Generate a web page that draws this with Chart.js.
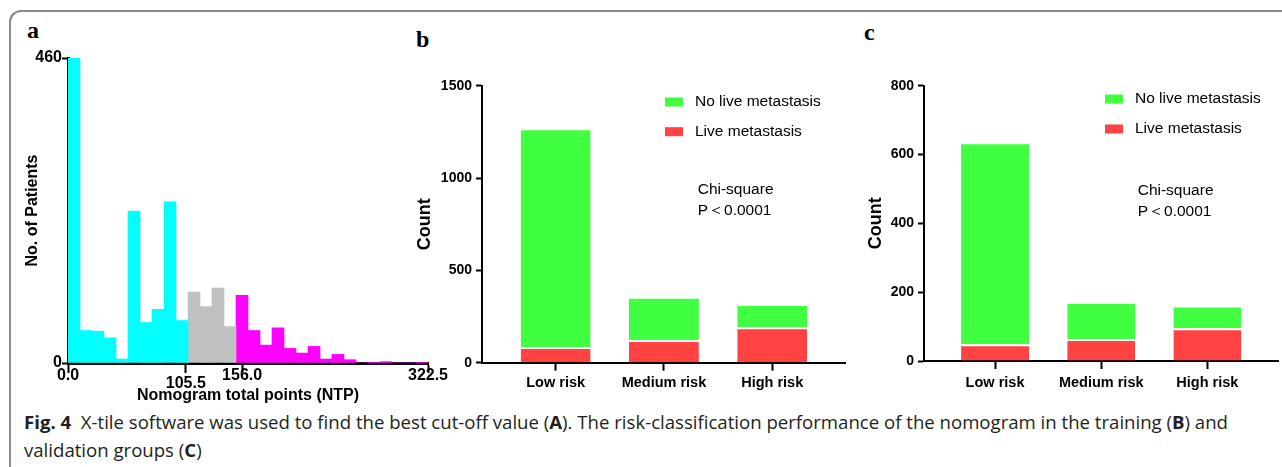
<!DOCTYPE html>
<html>
<head>
<meta charset="utf-8">
<script src="https://cdn.jsdelivr.net/npm/chart.js@4.4.1/dist/chart.umd.min.js"></script>
<style>
  body { margin: 0; background: #fff; width: 1282px; height: 467px; overflow: hidden; position: relative; }
  #frame { position: absolute; left: 9px; top: 10px; width: 1300px; height: 500px;
    border-left: 2px solid #8a8a8a; border-top: 2px solid #8a8a8a; border-top-left-radius: 12px; }
  canvas { position: absolute; }
  .tag { position: absolute; font: bold 24px 'Liberation Serif', 'Times New Roman', serif; line-height: 24px; color: #000; }
  #caption { position: absolute; left: 24px; top: 408px; font-size: 18.6px; line-height: 28px; color: #231f20;
    font-family: 'Open Sans', 'Noto Sans', sans-serif; white-space: nowrap; }
</style>
</head>
<body>
<div id="frame"></div>
<div class="tag" style="left:27px;top:18px">a</div>
<div class="tag" style="left:416px;top:27px">b</div>
<div class="tag" style="left:864px;top:20px">c</div>
<canvas id="histA" width="452" height="365" style="left:0;top:40px"></canvas>
<canvas id="trainB" width="445" height="330" style="left:405px;top:70px"></canvas>
<canvas id="validC" width="432" height="330" style="left:850px;top:70px"></canvas>
<div id="caption"><b>Fig. 4</b>&nbsp; X-tile software was used to find the best cut-off value (<b>A</b>). The risk-classification performance of the nomogram in the training (<b>B</b>) and<br>validation groups (<b>C</b>)</div>
<script>
'use strict';

// panel a: X-tile histogram of nomogram total points
const ntpBinWidth = 10.75;
const lowNtpCounts = [460, 49, 48, 38, 6, 229, 61, 81, 243, 64];
const midNtpCounts = [107, 85, 113, 55];
const highNtpCounts = [102, 49, 27, 53, 22, 15, 25, 6, 13, 5, 0, 1, 2, 0, 0, 1];
const ntpTicks = [0, 105.5, 156, 322.5];
const patientTicks = [0, 460];

// panels b and c: risk groups
const riskGroups = ['Low risk', 'Medium risk', 'High risk'];
const trainLive = [85, 123, 192];
const trainNoLive = [1184, 234, 126];
const validLive = [49, 64, 95];
const validNoLive = [587, 108, 66];
const noteLines = ['Chi-square', 'P\uFF1C0.0001'];

Chart.defaults.font.family = "'Liberation Sans', Arial, sans-serif";
Chart.defaults.color = '#000';

function toPoints(counts, firstBin) {
  return counts.map((c, i) => ({ x: (firstBin + i + 0.5) * ntpBinWidth, y: c }));
}

new Chart(document.getElementById('histA'), {
  type: 'bar',
  data: {
    datasets: [
      { label: 'low', data: toPoints(lowNtpCounts, 0), backgroundColor: '#00ffff' },
      { label: 'mid', data: toPoints(midNtpCounts, lowNtpCounts.length), backgroundColor: '#c0c0c0' },
      { label: 'high', data: toPoints(highNtpCounts, lowNtpCounts.length + midNtpCounts.length), backgroundColor: '#ff00ff' }
    ]
  },
  options: {
    responsive: false,
    animation: false,
    layout: { padding: { top: 18, right: 24, left: 0, bottom: 0 } },
    datasets: { bar: { grouped: false, barPercentage: 1, categoryPercentage: 1, borderWidth: 0 } },
    plugins: { legend: { display: false }, tooltip: { enabled: false } },
    scales: {
      x: {
        type: 'linear', min: 0, max: 322.5, z: 1, offset: false,
        afterBuildTicks: s => { s.ticks = ntpTicks.map(v => ({ value: v })); },
        afterFit: s => { s.height = 42; s.paddingLeft = 0; s.paddingRight = 0; },
        border: { color: '#000', width: 3 },
        grid: { offset: false, drawOnChartArea: false, tickLength: 10, tickWidth: 2, tickColor: '#000' },
        ticks: {
          autoSkip: false, maxRotation: 0, padding: -1, color: '#000',
          // the 105.5 cut-off label sits a little lower, as in X-tile
          callback: v => v === ntpTicks[1] ? ['', v.toFixed(1)] : v.toFixed(1),
          font: { size: 16, weight: 'bold', lineHeight: 0.5 }
        },
        title: { display: true, text: 'Nomogram total points (NTP)', color: '#000',
          font: { size: 16, weight: 'bold' }, padding: { top: 0, bottom: 0 } }
      },
      y: {
        min: 0, max: 460, z: 1,
        afterBuildTicks: s => { s.ticks = patientTicks.map(v => ({ value: v })); },
        afterFit: s => { s.width = 68; s.paddingTop = 0; s.paddingBottom = 0; },
        border: { color: '#000', width: 3 },
        grid: { drawOnChartArea: false, tickLength: 6, tickWidth: 2, tickColor: '#000' },
        ticks: { padding: 0, color: '#000', font: { size: 16, weight: 'bold' }, callback: v => String(v) },
        title: { display: true, text: 'No. of Patients', color: '#000',
          font: { size: 16, weight: 'bold' }, padding: { top: 23.4, bottom: 0 } }
      }
    }
  }
});

// legend + chi-square note inside the risk panels
const panelNotes = {
  id: 'panelNotes',
  afterDraw(chart, args, opts) {
    const ctx = chart.ctx;
    ctx.save();
    ctx.font = "15.5px 'Liberation Sans', Arial, sans-serif";
    ctx.textBaseline = 'middle';
    const items = chart.data.datasets.slice().reverse();
    items.forEach((ds, i) => {
      const y = opts.legendY + i * opts.rowGap;
      ctx.fillStyle = ds.backgroundColor;
      ctx.fillRect(opts.legendX, y - 4.5, 18, 9);
      ctx.fillStyle = '#000';
      ctx.fillText(ds.label, opts.legendX + 30, y);
    });
    noteLines.forEach((t, i) => ctx.fillText(t, opts.noteX, opts.noteY + i * opts.noteGap));
    ctx.restore();
  }
};

function riskChart(id, live, noLive, s) {
  return new Chart(document.getElementById(id), {
    type: 'bar',
    data: {
      datasets: [
        { label: 'Live metastasis', data: live.map((v, i) => ({ x: i, y: v })), backgroundColor: '#ff4343' },
        { label: 'No live metastasis', data: noLive.map((v, i) => ({ x: i, y: v })), backgroundColor: '#40ff40' }
      ]
    },
    plugins: [panelNotes],
    options: {
      responsive: false,
      animation: false,
      layout: { padding: { top: 15.7, right: s.padRight, left: 0, bottom: 0 } },
      datasets: { bar: { barPercentage: s.bar, categoryPercentage: 1, borderColor: '#fff',
        borderWidth: { top: 2, left: 0, right: 0, bottom: 0 } } },
      plugins: {
        legend: { display: false },
        tooltip: { enabled: false },
        panelNotes: s.notes
      },
      scales: {
        x: {
          type: 'linear', stacked: true, min: s.xMin, max: s.xMax, z: 1, offset: false,
          afterBuildTicks: sc => { sc.ticks = riskGroups.map((g, i) => ({ value: i })); },
          afterFit: sc => { sc.height = s.xHeight; sc.paddingLeft = 0; sc.paddingRight = 0; },
          border: { color: '#000', width: 2 },
          grid: { offset: false, drawOnChartArea: false, tickLength: 8, tickWidth: 2, tickColor: '#000' },
          ticks: { autoSkip: false, maxRotation: 0, padding: s.labelPad, color: '#000',
            font: { size: 14.5, weight: 'bold' }, callback: v => riskGroups[v] }
        },
        y: {
          stacked: true, min: 0, max: s.yMax, z: 1,
          afterFit: sc => { sc.width = s.yWidth; sc.paddingTop = 0; sc.paddingBottom = 0; },
          border: { color: '#000', width: 2 },
          grid: { drawOnChartArea: false, tickLength: 6, tickWidth: 2, tickColor: '#000' },
          ticks: { stepSize: s.yStep, padding: 4, color: '#000', font: { size: 14, weight: 'bold' },
            callback: v => String(v) },
          title: { display: true, text: 'Count', color: '#000',
            font: { size: 18, weight: 'bold' }, padding: { top: s.titlePad, bottom: 0 } }
        }
      }
    }
  });
}

riskChart('trainB', trainLive, trainNoLive, {
  yMax: 1500, yStep: 500, xMin: -0.68, xMax: 2.672, bar: 0.646,
  yWidth: 77, xHeight: 37.3, padRight: 5, titlePad: 9.2, labelPad: 3.6,
  notes: { legendX: 260, legendY: 32, rowGap: 29.7, noteX: 292.7, noteY: 120, noteGap: 20.7 }
});

riskChart('validC', validLive, validNoLive, {
  yMax: 800, yStep: 200, xMin: -0.669, xMax: 2.665, bar: 0.64,
  yWidth: 74, xHeight: 39, padRight: 4, titlePad: 15.2, labelPad: 5,
  notes: { legendX: 255, legendY: 29, rowGap: 30, noteX: 287.7, noteY: 120.7, noteGap: 21 }
});
</script>
</body>
</html>
